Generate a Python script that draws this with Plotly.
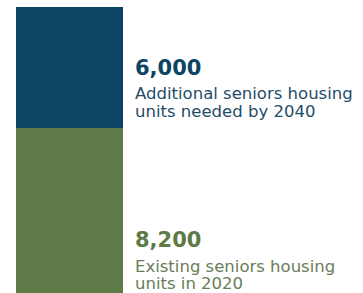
import plotly.graph_objects as go

categories = ["Seniors housing"]
existing_2020 = [8200]
additional_2040 = [6000]
value_labels = ["8,200", "6,000"]
desc_existing = ["Existing seniors housing", "units in 2020"]
desc_additional = ["Additional seniors housing", "units needed by 2040"]

BLUE = "#0B4563"
GREEN = "#5E7A47"

fig = go.Figure()
fig.add_bar(x=categories, y=existing_2020, marker_color=GREEN, marker_line_width=0, hoverinfo="skip")
fig.add_bar(x=categories, y=additional_2040, marker_color=BLUE, marker_line_width=0, hoverinfo="skip")

total = existing_2020[0] + additional_2040[0]

ann = []
def add_line(text, ypix, color, size, bold=False):
    ann.append(dict(
        text=f"<b>{text}</b>" if bold else text,
        xref="paper", yref="paper", x=1, xshift=10, xanchor="left",
        y=1 - (ypix - 7) / 286, yanchor="middle", showarrow=False,
        font=dict(family="DejaVu Sans", size=size, color=color), align="left"))

add_line(value_labels[1], 67.5, BLUE, 21, True)
add_line(desc_additional[0], 94, "#1F4C68", 16.5)
add_line(desc_additional[1], 111, "#1F4C68", 16.5)
add_line(value_labels[0], 240, GREEN, 21, True)
add_line(desc_existing[0], 266, "#687D56", 16.5)
add_line(desc_existing[1], 283.5, "#687D56", 16.5)

fig.update_layout(
    barmode="stack", bargap=0, showlegend=False,
    width=363, height=293,
    margin=dict(l=16, r=240, t=7, b=0),
    paper_bgcolor="white", plot_bgcolor="white",
    xaxis=dict(visible=False, range=[-0.5, 0.5]),
    yaxis=dict(visible=False, range=[0, total]),
    annotations=ann,
)
fig.write_html("out.html", config={"displayModeBar": False},
               post_script="document.body.style.margin='0';")
